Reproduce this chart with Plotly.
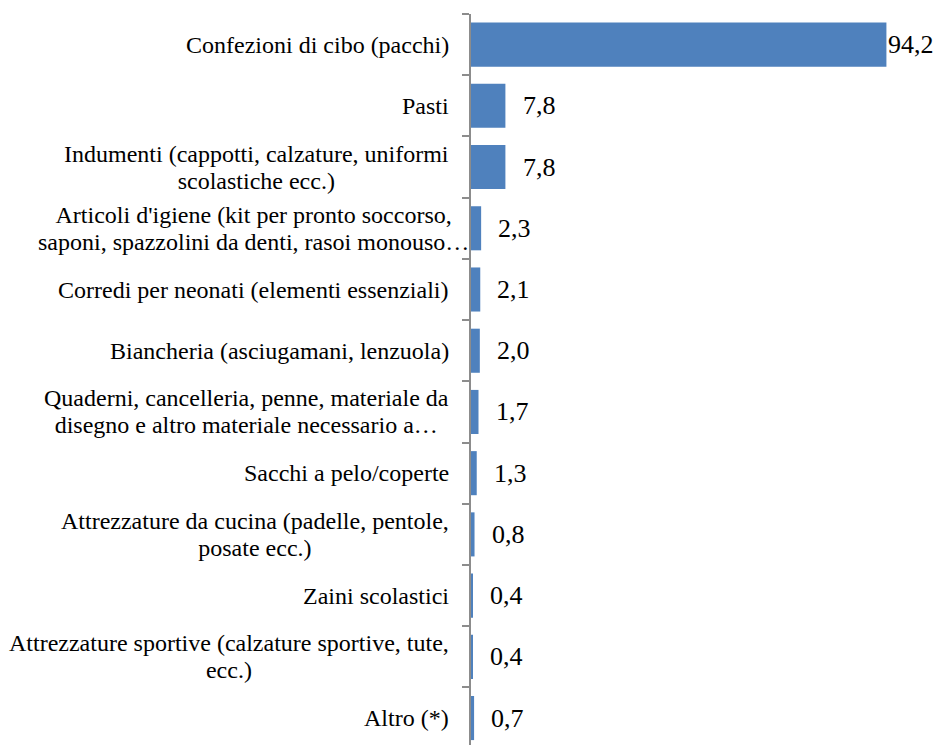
import plotly.graph_objects as go

categories = [
    "Confezioni di cibo (pacchi)",
    "Pasti",
    "Indumenti (cappotti, calzature, uniformi<br>scolastiche ecc.)",
    "Articoli d'igiene (kit per pronto soccorso,<br>saponi, spazzolini da denti, rasoi monouso…",
    "Corredi per neonati (elementi essenziali)",
    "Biancheria (asciugamani, lenzuola)",
    "Quaderni, cancelleria, penne, materiale da<br>disegno e altro materiale necessario a…",
    "Sacchi a pelo/coperte",
    "Attrezzature da cucina (padelle, pentole,<br>posate ecc.)",
    "Zaini scolastici",
    "Attrezzature sportive (calzature sportive, tute,<br>ecc.)",
    "Altro (*)",
]
values = [94.2, 7.8, 7.8, 2.3, 2.1, 2.0, 1.7, 1.3, 0.8, 0.4, 0.4, 0.7]
value_labels = ["94,2", "7,8", "7,8", "2,3", "2,1", "2,0", "1,7", "1,3", "0,8", "0,4", "0,4", "0,7"]

# styling offsets (pixels)
value_xshift = [0, 16, 16, 15, 15, 15, 15, 15, 15, 15, 15, 15]
cat_xshift = [-20, -20, -20, 0, -20, -20, -20, -20, -20, -20, -20, -20]

FONT = "Liberation Serif"
BAR = "#4F81BD"
AXIS = "#8C8C8C"


def sized(label, px=24):
    return "<br>".join(
        f"<span style='font-size:{px}px'>{part}</span>" for part in label.split("<br>")
    )


fig = go.Figure(
    go.Bar(
        x=values,
        y=categories,
        orientation="h",
        marker=dict(color=BAR, line=dict(width=0)),
        hoverinfo="x",
    )
)

for c, v, t, s, cs in zip(categories, values, value_labels, value_xshift, cat_xshift):
    fig.add_annotation(
        x=v, y=c, text=t, showarrow=False, xanchor="left", yanchor="middle",
        xshift=s, font=dict(family=FONT, size=26, color="black"),
    )
    fig.add_annotation(
        xref="paper", x=0, y=c, text=sized(c), showarrow=False, xanchor="right",
        yanchor="middle", align="center", xshift=cs,
        font=dict(family=FONT, size=20.6, color="black"),
    )

fig.update_layout(
    width=937,
    height=745,
    margin=dict(l=471, r=25, t=14, b=0),
    paper_bgcolor="white",
    plot_bgcolor="white",
    bargap=0.28,
    showlegend=False,
    font=dict(family=FONT, size=24, color="black"),
)
fig.update_xaxes(
    range=[0, 100], showgrid=False, zeroline=False, showline=False,
    showticklabels=False, ticks="",
)
fig.update_yaxes(
    type="category",
    categoryorder="array",
    categoryarray=categories,
    range=[11.44, -0.5],
    showgrid=False,
    zeroline=False,
    showline=True,
    linecolor=AXIS,
    linewidth=2,
    ticks="outside",
    tickson="boundaries",
    ticklen=7,
    tickwidth=2,
    tickcolor=AXIS,
    showticklabels=False,
)

fig.write_html(
    "out.html",
    config={"displayModeBar": False},
    post_script="document.body.style.margin='0';document.body.style.overflow='hidden';",
)
